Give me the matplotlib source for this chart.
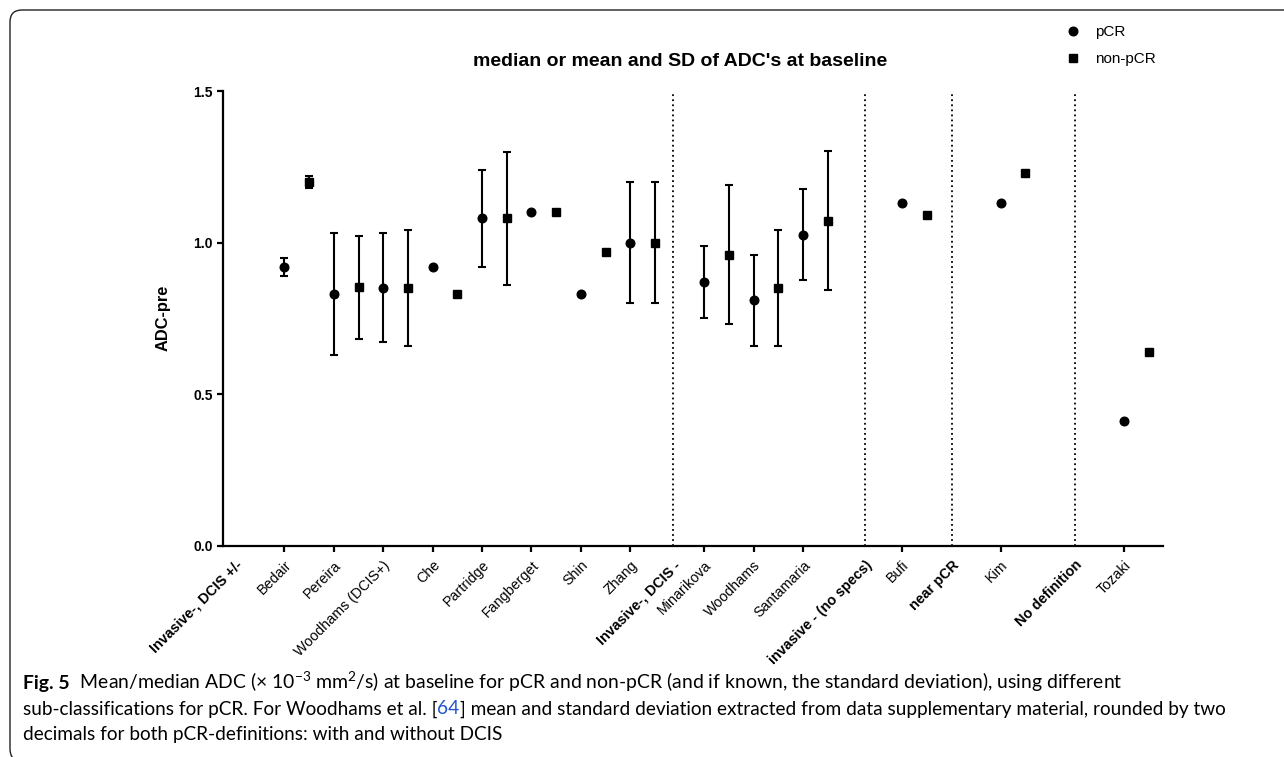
import numpy as np
import matplotlib
matplotlib.use('Agg')
import matplotlib.pyplot as plt
from matplotlib import font_manager
from matplotlib.lines import Line2D
from matplotlib.patches import FancyBboxPatch
from matplotlib.transforms import IdentityTransform

# studies along the x axis (pCR at the tick, non-pCR half a step right)
studies = ['Bedair', 'Pereira', 'Woodhams (DCIS+)', 'Che', 'Partridge', 'Fangberget',
           'Shin', 'Zhang', 'Minarikova', 'Woodhams', 'Santamaria', 'Bufi', 'Kim', 'Tozaki']
study_pos = [1, 2, 3, 4, 5, 6, 7, 8, 9.5, 10.5, 11.5, 13.5, 15.5, 18]

pcr_mean = [0.92, 0.83, 0.85, 0.92, 1.08, 1.10, 0.83, 1.00, 0.87, 0.81, 1.025, 1.13, 1.13, 0.41]
pcr_sd = [0.03, 0.20, 0.18, np.nan, 0.16, np.nan, np.nan, 0.20, 0.12, 0.15, 0.15, np.nan, np.nan, np.nan]
non_mean = [1.20, 0.853, 0.85, 0.83, 1.08, 1.10, 0.97, 1.00, 0.96, 0.85, 1.072, 1.09, 1.23, 0.64]
non_sd = [0.02, 0.17, 0.19, np.nan, 0.22, np.nan, np.nan, 0.20, 0.23, 0.19, 0.23, np.nan, np.nan, np.nan]

groups = ['Invasive-, DCIS +/-', 'Invasive-, DCIS -', 'invasive - (no specs)', 'near pCR', 'No definition']
group_pos = [0, 8.87, 12.75, 14.51, 17.01]

title = "median or mean and SD of ADC's at baseline"
cap_fig = 'Fig. 5'
cap_line1 = '  Mean/median ADC (× 10$^{-3}$ mm$^{2}$/s) at baseline for pCR and non-pCR (and if known, the standard deviation), using different'
cap_line2 = ['sub-classifications for pCR. For Woodhams et al. [', '64',
             '] mean and standard deviation extracted from data supplementary material, rounded by two']
cap_line3 = 'decimals for both pCR-definitions: with and without DCIS'

names = {f.name for f in font_manager.fontManager.ttflist}
cap_font = 'Lato' if 'Lato' in names else 'DejaVu Sans'

plt.rcParams['font.family'] = ['Liberation Sans', 'DejaVu Sans']
plt.rcParams['mathtext.fontset'] = 'custom'
plt.rcParams['mathtext.rm'] = cap_font
plt.rcParams['mathtext.it'] = cap_font
plt.rcParams['mathtext.bf'] = cap_font

W, H = 1284, 757
fig = plt.figure(figsize=(W / 100, H / 100), dpi=100)
ax = fig.add_axes([222.5 / W, 1 - 545.5 / H, (1162.7 - 222.5) / W, (545.5 - 91) / H])

ekw = dict(color='black', capsize=3, elinewidth=1.5, capthick=1.5, linestyle='none')
ax.errorbar(study_pos, pcr_mean, yerr=pcr_sd, fmt='o', ms=6.2, **ekw)
ax.errorbar(np.array(study_pos) + 0.5, non_mean, yerr=non_sd, fmt='s', ms=5.6, **ekw)

for g in group_pos[1:]:
    ax.axvline(g, color='black', lw=1.3, linestyle=(0, (1, 1.8)), zorder=0)

ax.set_xlim(-0.255, 18.78)
ax.set_ylim(0, 1.5)
ax.set_yticks([0, 0.5, 1.0, 1.5])
ax.set_yticklabels(['0.0', '0.5', '1.0', '1.5'], fontweight='bold', fontsize=10)
ax.set_ylabel('ADC-pre', fontweight='bold', fontsize=11.8, labelpad=16)

ticks = list(study_pos) + list(group_pos)
labels = list(studies) + list(groups)
ax.set_xticks(ticks)
ax.set_xticklabels(labels, rotation=45, ha='right', rotation_mode='anchor', fontsize=10.3)
for tk, lab in zip(ax.xaxis.get_major_ticks(), labels):
    if lab in groups:
        tk.tick1line.set_visible(False)
        tk.label1.set_fontweight('bold')

for s in ['top', 'right']:
    ax.spines[s].set_visible(False)
for s in ['left', 'bottom']:
    ax.spines[s].set_linewidth(1.6)
ax.tick_params(axis='both', width=1.6, length=4, direction='out', pad=3, colors='black')
ax.tick_params(axis='x', pad=5)

fig.text(680 / W, 1 - 61 / H, title, ha='center', va='center', fontweight='bold', fontsize=14)

handles = [Line2D([], [], marker='o', ls='none', color='black', ms=6.2),
           Line2D([], [], marker='s', ls='none', color='black', ms=5.6)]
fig.legend(handles, ['pCR', 'non-pCR'], loc='upper left', bbox_to_anchor=(1065.4 / W, 1 - 25 / H),
           frameon=False, fontsize=11, handlelength=1.0, handletextpad=0.94, labelspacing=0.85,
           borderpad=0, borderaxespad=0)

# figure frame with rounded corner
frame = FancyBboxPatch((10, -4), 1400, H - 10 + 4, boxstyle='round,pad=0,rounding_size=12',
                       transform=IdentityTransform(), fill=False, ec='#222222', lw=1.0)
fig.add_artist(frame)

# caption
fig.canvas.draw()
r = fig.canvas.get_renderer()

probe = fig.text(0, 0, ''.join(cap_line2), family=cap_font, fontsize=12)
cap_size = 12 * (1197 / probe.get_window_extent(r).width)
probe.remove()


def put_line(x, y, pieces, size):
    for txt, kw in pieces:
        t = fig.text(x / W, 1 - y / H, txt, va='baseline', ha='left', family=cap_font,
                     fontsize=size, **kw)
        x += t.get_window_extent(r).width


put_line(23, 689, [(cap_fig, dict(fontweight='bold')), (cap_line1, {})], cap_size * 1.02)
put_line(23, 714.5, [(cap_line2[0], {}), (cap_line2[1], dict(color='#2255cc')), (cap_line2[2], {})], cap_size)
put_line(23, 740, [(cap_line3, {})], cap_size)

fig.savefig('out.png', dpi=100)
